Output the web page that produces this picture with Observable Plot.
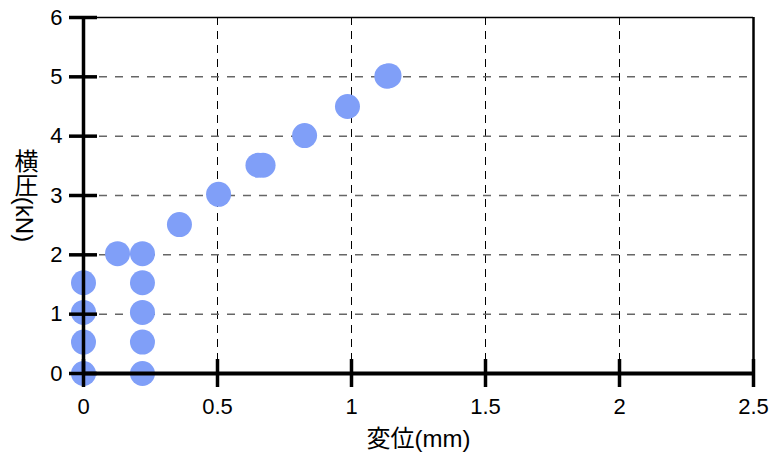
<!DOCTYPE html>
<html><head><meta charset="utf-8">
<script src="https://cdn.jsdelivr.net/npm/d3@7"></script>
<script src="https://cdn.jsdelivr.net/npm/@observablehq/plot@0.6"></script>
<style>body{margin:0;background:#fff}</style>
</head><body><div id="chart"></div>
<script>
const displacement = [0, 0, 0, 0, 0.22, 0.22, 0.22, 0.22, 0.22, 0.127, 0.358, 0.504, 0.651, 0.670, 0.825, 0.985, 1.132, 1.140];
const lateralLoad  = [0, 0.53, 1.03, 1.53, 0, 0.53, 1.03, 1.53, 2.02, 2.02, 2.51, 3.02, 3.51, 3.51, 4.01, 4.5, 5.01, 5.02];
const xTicks = [0, 0.5, 1, 1.5, 2, 2.5];
const yTicks = [0, 1, 2, 3, 4, 5, 6];
const xGrid = [0.5, 1, 1.5, 2];
const yGrid = [1, 2, 3, 4, 5];
const xLabel = "変位(mm)";
const yLabel = "横圧(kN)";

const data = displacement.map((x, i) => ({x, y: lateralLoad[i]}));
const font = "'Liberation Sans', Arial, 'Noto Sans CJK JP', sans-serif";
const fmt = d => String(d);

const plot = Plot.plot({
  width: 773, height: 457,
  marginLeft: 83, marginRight: 20, marginTop: 17, marginBottom: 84,
  style: {fontFamily: font, fontSize: "22px", background: "white", color: "black", overflow: "visible"},
  x: {domain: [0, 2.5], label: null},
  y: {domain: [0, 6], label: null},
  marks: [
    Plot.ruleX(xGrid, {stroke: "black", strokeWidth: 1, strokeDasharray: "8,6"}),
    Plot.ruleY(yGrid, {stroke: "#666", strokeWidth: 1.5, strokeDasharray: "8,8"}),
    Plot.dot(data, {x: "x", y: "y", r: 12.5, fill: "#809ff8"}),
    Plot.ruleY([6], {stroke: "black", strokeWidth: 1.5}),
    Plot.ruleX([2.5], {stroke: "black", strokeWidth: 2.5}),
    Plot.ruleX([0], {stroke: "black", strokeWidth: 3.5}),
    Plot.ruleY([0], {stroke: "black", strokeWidth: 4}),
    Plot.axisY(yTicks, {tickSize: 28, dx: 14, strokeWidth: 3.5, tickFormat: () => ""}),
    Plot.axisX(xTicks, {tickSize: 28, dy: -14, strokeWidth: 3.5, tickFormat: () => ""}),
    Plot.axisY(yTicks, {tickSize: 0, tickPadding: 21, fontSize: 22, tickFormat: fmt}),
    Plot.axisX(xTicks, {tickSize: 0, tickPadding: 25, fontSize: 22, tickFormat: fmt}),
    Plot.text([xLabel], {frameAnchor: "bottom", dy: 73, fontSize: 24}),
    Plot.text([yLabel], {frameAnchor: "left", dx: -59, fontSize: 24, lineAnchor: "bottom"})
  ]
});
document.getElementById("chart").appendChild(plot);
d3.select(plot).selectAll("text").filter(function() { return this.textContent === yLabel; })
  .style("writing-mode", "vertical-rl").attr("text-anchor", "middle").attr("dy", null);
</script>
</body></html>
